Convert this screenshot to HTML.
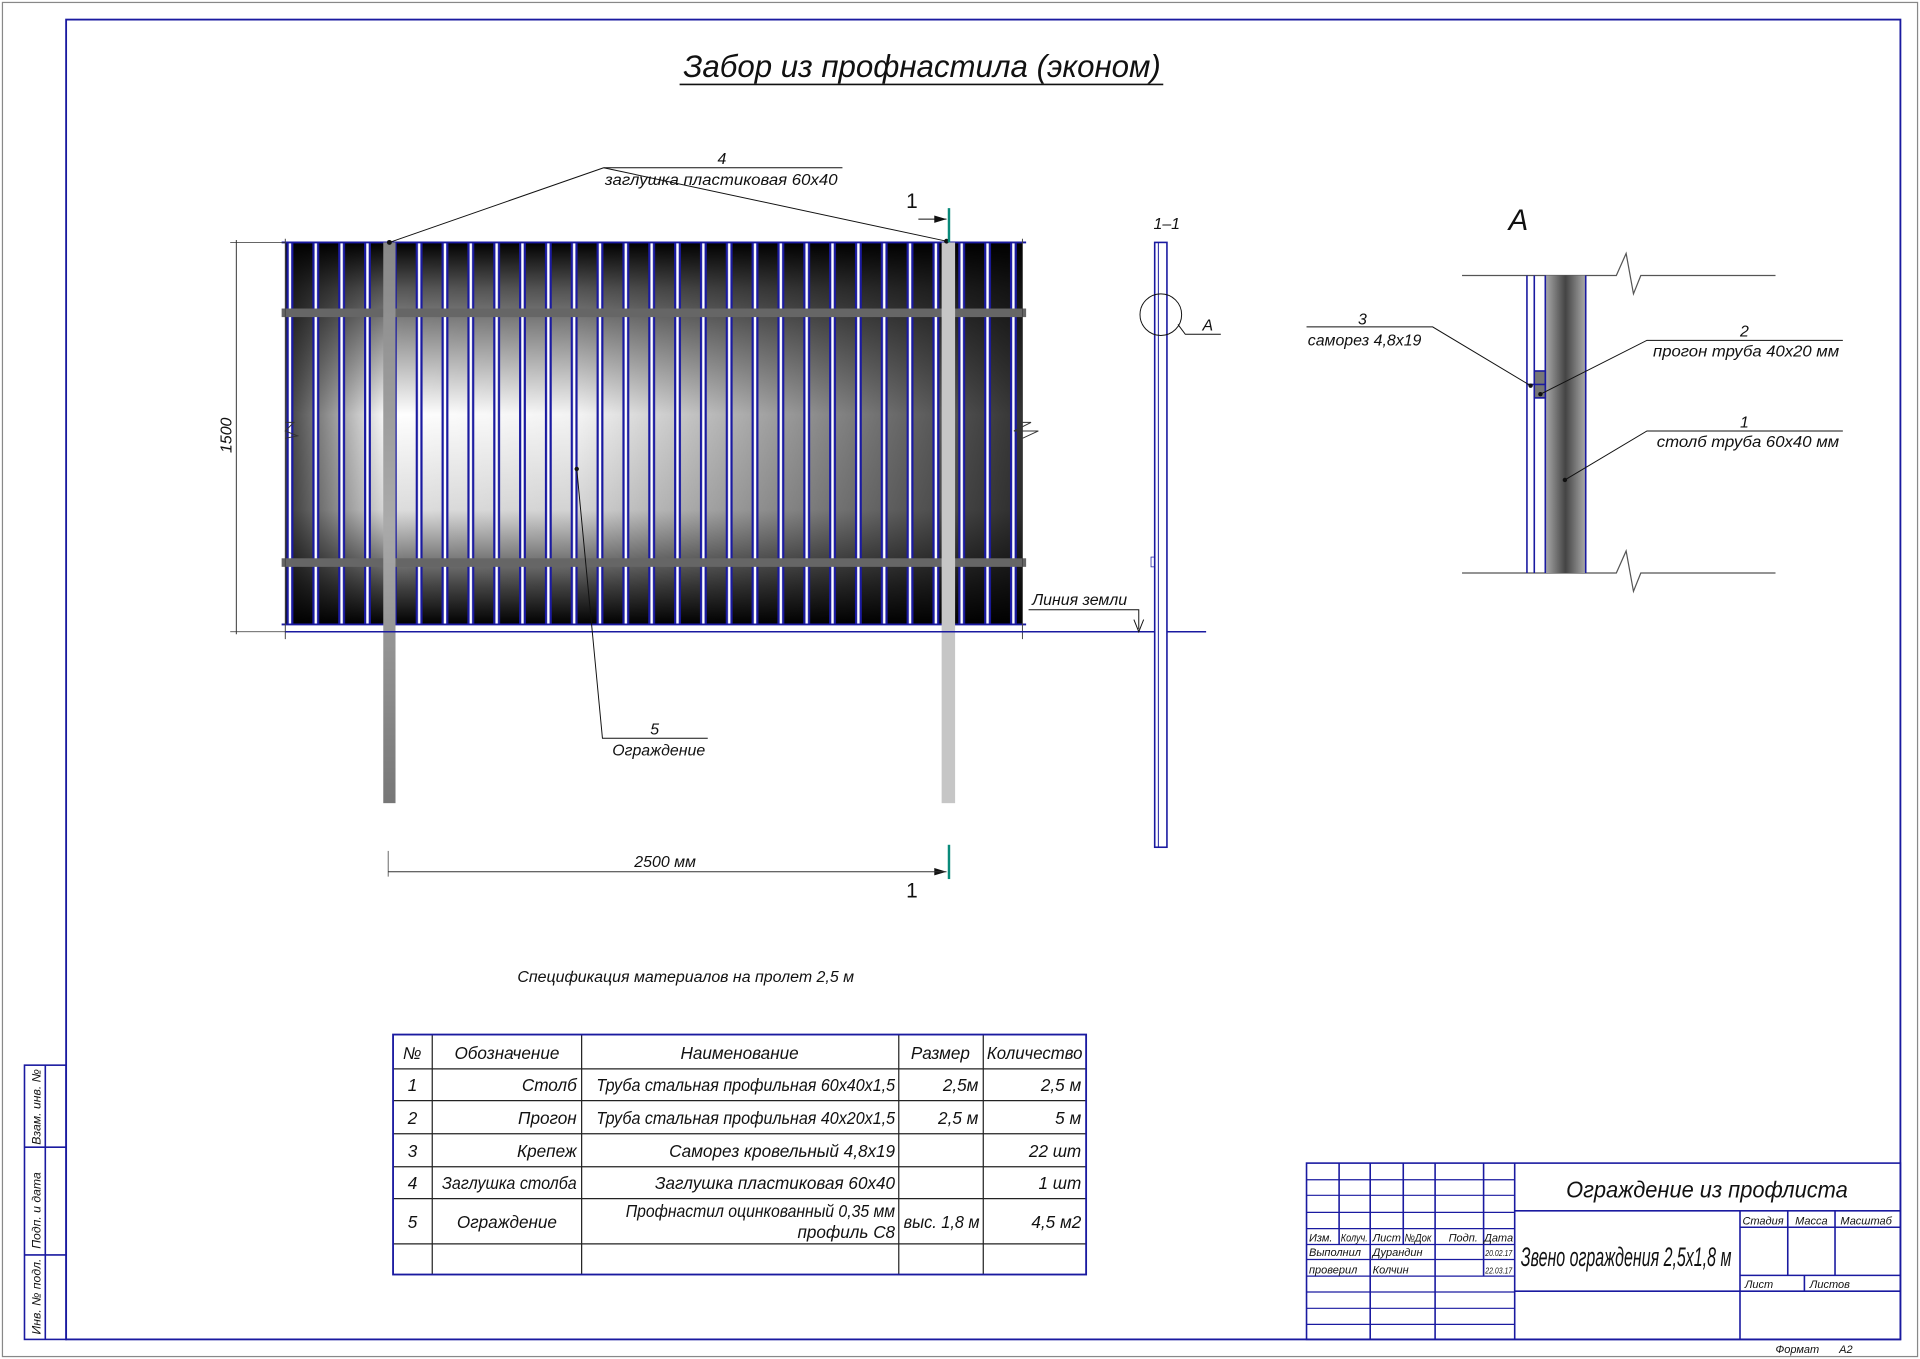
<!DOCTYPE html>
<html><head><meta charset="utf-8"><style>
html,body{margin:0;padding:0;background:#fff}
svg{display:block}
text{font-family:"Liberation Sans","DejaVu Sans",sans-serif;font-style:italic;fill:#111}
</style></head><body>
<svg width="1920" height="1359" viewBox="0 0 1568 1110" preserveAspectRatio="none" xmlns="http://www.w3.org/2000/svg">
<defs>
<linearGradient id="gv" x1="0" y1="0" x2="0" y2="1">
<stop offset="0" stop-color="#000"/><stop offset="0.12" stop-color="#555"/><stop offset="0.45" stop-color="#fff"/><stop offset="0.7" stop-color="#ddd"/><stop offset="0.9" stop-color="#444"/><stop offset="1" stop-color="#000"/>
</linearGradient>
<linearGradient id="gh" x1="0" y1="0" x2="1" y2="0">
<stop offset="0" stop-color="#000" stop-opacity="0.75"/><stop offset="0.14" stop-color="#000" stop-opacity="0"/><stop offset="0.4" stop-color="#000" stop-opacity="0.05"/><stop offset="1" stop-color="#000" stop-opacity="0.8"/>
</linearGradient>
<pattern id="rib" patternUnits="userSpaceOnUse" x="234" y="0" width="21.1" height="1110">
<rect x="0" y="0" width="5.6" height="1110" fill="#1a1aa0"/>
<rect x="1.8" y="0" width="2" height="1110" fill="#fff"/>
</pattern>
<linearGradient id="gp" x1="0" y1="0" x2="1" y2="0">
<stop offset="0" stop-color="#aaa"/><stop offset="0.5" stop-color="#444"/><stop offset="1" stop-color="#aaa"/>
</linearGradient>
<linearGradient id="gpost" x1="0" y1="0" x2="0" y2="1">
<stop offset="0" stop-color="#888"/><stop offset="0.5" stop-color="#aaa"/><stop offset="1" stop-color="#777"/>
</linearGradient>
</defs>

<rect x="2" y="2" width="1564" height="1106" fill="none" stroke="#888" stroke-width="1"/>
<rect x="54" y="16" width="1498" height="1078" fill="none" stroke="#1a1aa0" stroke-width="1.5"/>
<g stroke="#1a1aa0" stroke-width="1.3" fill="none">
<rect x="20" y="870" width="34" height="224"/>
<line x1="20" y1="937" x2="54" y2="937"/><line x1="20" y1="1025" x2="54" y2="1025"/>
<line x1="37" y1="870" x2="37" y2="1094"/>
</g>
<text transform="translate(33,935) rotate(-90)" font-size="10">Взам. инв. №</text>
<text transform="translate(33,1020) rotate(-90)" font-size="10">Подп. и дата</text>
<text transform="translate(33,1090) rotate(-90)" font-size="10">Инв. № подл.</text>

<text x="753" y="63" font-size="26" text-anchor="middle" textLength="390" lengthAdjust="spacingAndGlyphs">Забор из профнастила (эконом)</text>
<line x1="555" y1="69" x2="950" y2="69" stroke="#111" stroke-width="1.3"/>

<rect x="233" y="198" width="602" height="312" fill="url(#gv)"/>
<rect x="233" y="198" width="602" height="312" fill="url(#gh)"/>
<rect x="233" y="198" width="598" height="312" fill="url(#rib)"/>
<rect x="230" y="252" width="608" height="7" fill="#666"/>
<rect x="230" y="456" width="608" height="7" fill="#666"/>
<line x1="230" y1="198" x2="838" y2="198" stroke="#1a1aa0" stroke-width="1.5"/>
<line x1="230" y1="510" x2="838" y2="510" stroke="#1a1aa0" stroke-width="1.5"/>
<line x1="233" y1="195" x2="233" y2="522" stroke="#444" stroke-width="0.8"/>
<line x1="835" y1="195" x2="835" y2="522" stroke="#444" stroke-width="0.8"/>
<rect x="313" y="198" width="10" height="458" fill="url(#gpost)"/>
<rect x="769" y="198" width="11" height="458" fill="#c6c6c6"/>
<line x1="233" y1="516" x2="985" y2="516" stroke="#1a1aa0" stroke-width="1.3"/>
<polyline points="233,345 240,345 233,352 243,356 233,358" fill="none" stroke="#333" stroke-width="0.8"/>
<polyline points="835,345 842,345 828,352 848,352 835,358" fill="none" stroke="#333" stroke-width="0.8"/>
<line x1="193" y1="196" x2="193" y2="518" stroke="#333" stroke-width="0.8"/>
<line x1="188" y1="198" x2="233" y2="198" stroke="#333" stroke-width="0.6"/>
<line x1="188" y1="516" x2="233" y2="516" stroke="#333" stroke-width="0.6"/>
<text transform="translate(189,370) rotate(-90)" font-size="13">1500</text>
<g stroke="#111" stroke-width="0.8" fill="none">
<line x1="493" y1="137" x2="688" y2="137"/>
<line x1="493" y1="137" x2="318" y2="198"/>
<line x1="493" y1="137" x2="773" y2="197"/>
</g>
<circle cx="318" cy="198" r="2" fill="#111"/><circle cx="773" cy="197" r="2" fill="#111"/>
<text x="586" y="134" font-size="13">4</text>
<text x="494" y="151" font-size="13" textLength="190" lengthAdjust="spacingAndGlyphs">заглушка пластиковая 60х40</text>
<line x1="775" y1="170" x2="775" y2="198" stroke="#0a8a7a" stroke-width="2"/>
<line x1="750" y1="179" x2="773" y2="179" stroke="#111" stroke-width="0.8"/>
<polygon points="773,179 763,176 763,182" fill="#111"/>
<text x="740" y="170" font-size="17" style="font-style:normal">1</text>
<line x1="775" y1="690" x2="775" y2="718" stroke="#0a8a7a" stroke-width="2"/>
<polygon points="773,712 763,709 763,715" fill="#111"/>
<text x="740" y="733" font-size="17" style="font-style:normal">1</text>
<line x1="317" y1="712" x2="773" y2="712" stroke="#333" stroke-width="0.8"/>
<line x1="317" y1="695" x2="317" y2="716" stroke="#333" stroke-width="0.6"/>
<text x="518" y="708" font-size="13">2500 мм</text>
<polyline points="471,383 492,603 578,603" fill="none" stroke="#111" stroke-width="0.8"/>
<circle cx="471" cy="383" r="1.8" fill="#111"/>
<text x="531" y="600" font-size="13">5</text>
<text x="500" y="617" font-size="13">Ограждение</text>

<text x="942" y="187" font-size="13">1–1</text>
<rect x="943" y="198" width="10" height="494" fill="#fff" stroke="#1a1aa0" stroke-width="1.3"/>
<line x1="946" y1="198" x2="946" y2="692" stroke="#1a1aa0" stroke-width="0.8"/>
<rect x="940" y="455" width="3" height="8" fill="none" stroke="#1a1aa0" stroke-width="0.6"/>
<circle cx="948" cy="257" r="17" fill="none" stroke="#111" stroke-width="0.8"/>
<polyline points="962,265 968,273 997,273" fill="none" stroke="#111" stroke-width="0.8"/>
<text x="982" y="270" font-size="13">А</text>
<polyline points="840,498 930,498 930,514" fill="none" stroke="#111" stroke-width="0.8"/>
<polyline points="926,506 930,516 934,506" fill="none" stroke="#111" stroke-width="0.8"/>
<text x="843" y="494" font-size="13">Линия земли</text>

<text x="1232" y="188" font-size="24">А</text>
<g stroke="#555" stroke-width="1" fill="none">
<polyline points="1194,225 1320,225 1328,207 1334,240 1340,225 1450,225"/>
<polyline points="1194,468 1320,468 1328,450 1334,483 1340,468 1450,468"/>
</g>
<rect x="1262" y="225" width="33" height="243" fill="url(#gp)"/>
<g stroke="#1a1aa0" stroke-width="1.3" fill="none">
<line x1="1247" y1="225" x2="1247" y2="468"/><line x1="1253" y1="225" x2="1253" y2="468"/>
<line x1="1262" y1="225" x2="1262" y2="468"/><line x1="1295" y1="225" x2="1295" y2="468"/>
<rect x="1253" y="303" width="9" height="22" fill="#777"/>
<line x1="1253" y1="314" x2="1262" y2="314"/>
<line x1="1247" y1="314" x2="1253" y2="314"/>
</g>
<g stroke="#111" stroke-width="0.8" fill="none">
<polyline points="1067,267 1170,267 1250,315"/>
<polyline points="1505,278 1345,278 1258,322"/>
<polyline points="1505,352 1345,352 1278,392"/>
</g>
<circle cx="1250" cy="315" r="1.8" fill="#111"/><circle cx="1258" cy="322" r="1.8" fill="#111"/><circle cx="1278" cy="392" r="1.8" fill="#111"/>
<text x="1109" y="265" font-size="13">3</text>
<text x="1068" y="282" font-size="13">саморез 4,8х19</text>
<text x="1421" y="275" font-size="13">2</text>
<text x="1350" y="291" font-size="13" textLength="152" lengthAdjust="spacingAndGlyphs">прогон труба 40х20 мм</text>
<text x="1421" y="349" font-size="13">1</text>
<text x="1353" y="365" font-size="13" textLength="149" lengthAdjust="spacingAndGlyphs">столб труба 60х40 мм</text>

<text x="560" y="802" font-size="13" text-anchor="middle" textLength="275" lengthAdjust="spacingAndGlyphs">Спецификация материалов на пролет 2,5 м</text>
<g stroke="#222" stroke-width="1" fill="none">
<line x1="321" y1="873" x2="887" y2="873"/><line x1="321" y1="899" x2="887" y2="899"/>
<line x1="321" y1="926" x2="887" y2="926"/><line x1="321" y1="953" x2="887" y2="953"/>
<line x1="321" y1="979" x2="887" y2="979"/><line x1="321" y1="1016" x2="887" y2="1016"/>
<line x1="353" y1="845" x2="353" y2="1041"/><line x1="475" y1="845" x2="475" y2="1041"/>
<line x1="734" y1="845" x2="734" y2="1041"/><line x1="803" y1="845" x2="803" y2="1041"/>
</g>
<rect x="321" y="845" width="566" height="196" fill="none" stroke="#1a1aa0" stroke-width="1.5"/>
<g font-size="14">
<text x="329" y="865">№</text>
<text x="414" y="865" text-anchor="middle">Обозначение</text>
<text x="604" y="865" text-anchor="middle">Наименование</text>
<text x="768" y="865" text-anchor="middle">Размер</text>
<text x="845" y="865" text-anchor="middle" textLength="78" lengthAdjust="spacingAndGlyphs">Количество</text>
<text x="333" y="891">1</text><text x="471" y="891" text-anchor="end">Столб</text>
<text x="731" y="891" text-anchor="end" textLength="244" lengthAdjust="spacingAndGlyphs">Труба стальная профильная 60х40х1,5</text>
<text x="799" y="891" text-anchor="end">2,5м</text><text x="883" y="891" text-anchor="end">2,5 м</text>
<text x="333" y="918">2</text><text x="471" y="918" text-anchor="end">Прогон</text>
<text x="731" y="918" text-anchor="end" textLength="244" lengthAdjust="spacingAndGlyphs">Труба стальная профильная 40х20х1,5</text>
<text x="799" y="918" text-anchor="end">2,5 м</text><text x="883" y="918" text-anchor="end">5 м</text>
<text x="333" y="945">3</text><text x="471" y="945" text-anchor="end">Крепеж</text>
<text x="731" y="945" text-anchor="end">Саморез кровельный 4,8х19</text>
<text x="883" y="945" text-anchor="end">22 шт</text>
<text x="333" y="971">4</text><text x="471" y="971" text-anchor="end" textLength="110" lengthAdjust="spacingAndGlyphs">Заглушка столба</text>
<text x="731" y="971" text-anchor="end">Заглушка пластиковая 60х40</text>
<text x="883" y="971" text-anchor="end">1 шт</text>
<text x="333" y="1003">5</text><text x="414" y="1003" text-anchor="middle">Ограждение</text>
<text x="731" y="994" text-anchor="end" textLength="220" lengthAdjust="spacingAndGlyphs">Профнастил оцинкованный 0,35 мм</text>
<text x="731" y="1011" text-anchor="end">профиль С8</text>
<text x="769" y="1003" text-anchor="middle" textLength="62" lengthAdjust="spacingAndGlyphs">выс. 1,8 м</text><text x="883" y="1003" text-anchor="end">4,5 м2</text>
</g>

<g stroke="#1a1aa0" stroke-width="1.3" fill="none">
<rect x="1067" y="950" width="485" height="144"/>
<line x1="1237" y1="950" x2="1237" y2="1094"/>
<line x1="1119" y1="950" x2="1119" y2="1094"/>
<line x1="1172" y1="950" x2="1172" y2="1094"/>
<line x1="1093.6" y1="950" x2="1093.6" y2="1016.5"/>
<line x1="1146" y1="950" x2="1146" y2="1016.5"/>
<line x1="1211.6" y1="950" x2="1211.6" y2="1042"/>
<line x1="1237" y1="989" x2="1552" y2="989"/>
<line x1="1421" y1="989" x2="1421" y2="1094"/>
<line x1="1421" y1="1002.4" x2="1552" y2="1002.4"/>
<line x1="1460" y1="989" x2="1460" y2="1041.7"/>
<line x1="1498.6" y1="989" x2="1498.6" y2="1041.7"/>
<line x1="1421" y1="1041.7" x2="1552" y2="1041.7"/>
<line x1="1473.6" y1="1041.7" x2="1473.6" y2="1054.6"/>
<line x1="1237" y1="1054.6" x2="1552" y2="1054.6"/>
</g>
<g stroke="#1a1aa0" stroke-width="1" fill="none">
<line x1="1067" y1="963.6" x2="1237" y2="963.6"/><line x1="1067" y1="976.3" x2="1237" y2="976.3"/>
<line x1="1067" y1="990.2" x2="1237" y2="990.2"/><line x1="1067" y1="1003.5" x2="1237" y2="1003.5"/>
<line x1="1067" y1="1016.5" x2="1237" y2="1016.5"/><line x1="1067" y1="1028.7" x2="1237" y2="1028.7"/>
<line x1="1067" y1="1042.3" x2="1237" y2="1042.3"/><line x1="1067" y1="1055.3" x2="1237" y2="1055.3"/>
<line x1="1067" y1="1068.6" x2="1237" y2="1068.6"/><line x1="1067" y1="1081.7" x2="1237" y2="1081.7"/>
</g>
<text x="1394" y="978" font-size="19" text-anchor="middle" textLength="230" lengthAdjust="spacingAndGlyphs">Ограждение из профлиста</text>
<text x="1242" y="1034" font-size="22" textLength="172" lengthAdjust="spacingAndGlyphs">Звено ограждения 2,5х1,8 м</text>
<g font-size="9">
<text x="1069" y="1014">Изм.</text><text x="1095" y="1014" textLength="22" lengthAdjust="spacingAndGlyphs">Колуч.</text><text x="1121" y="1014">Лист</text><text x="1147" y="1014" textLength="22" lengthAdjust="spacingAndGlyphs">№Док</text><text x="1183" y="1014">Подп.</text><text x="1212" y="1014">Дата</text>
<text x="1069" y="1026">Выполнил</text><text x="1121" y="1026">Дурандин</text><text x="1213" y="1026" font-size="7" textLength="22" lengthAdjust="spacingAndGlyphs">20.02.17</text>
<text x="1069" y="1040">проверил</text><text x="1121" y="1040">Колчин</text><text x="1213" y="1040" font-size="7" textLength="22" lengthAdjust="spacingAndGlyphs">22.03.17</text>
<text x="1423" y="1000">Стадия</text><text x="1466" y="1000">Масса</text><text x="1503" y="1000">Масштаб</text>
<text x="1425" y="1052">Лист</text><text x="1478" y="1052">Листов</text>
<text x="1450" y="1105">Формат</text><text x="1502" y="1105">А2</text>
</g>
</svg>
</body></html>
